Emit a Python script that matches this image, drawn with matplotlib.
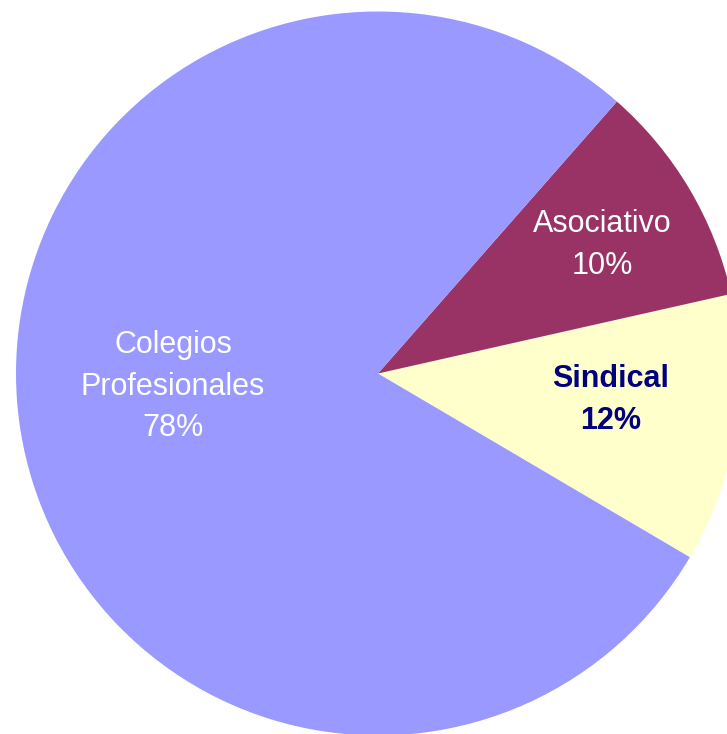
import matplotlib

matplotlib.use("Agg")

import matplotlib.pyplot as plt

# Share of organisations by type (percent)
labels = ["Sindical", "Asociativo", "Colegios\nProfesionales"]
values = [12, 10, 78]
colors = ["#FFFFCC", "#993366", "#9999FF"]
text_colors = ["#000080", "white", "white"]
weights = ["bold", "normal", "normal"]

# label anchor points in pixel space (x right, y up)
label_pos = [(611, 334), (602, 489), (173, 347)]

W, H = 727, 734

fig = plt.figure(figsize=(W / 100, H / 100), dpi=100)
ax = fig.add_axes([0, 0, 1, 1])

ax.pie(
    values,
    colors=colors,
    startangle=-30.5,
    counterclock=True,
    center=(378, H - 373.5),
    radius=362,
    frame=True,
    wedgeprops=dict(linewidth=0),
)
ax.set_xlim(0, W)
ax.set_ylim(0, H)
ax.set_aspect("equal")
ax.axis("off")

for lab, val, (x, y), c, w in zip(labels, values, label_pos, text_colors, weights):
    ax.text(
        x, y, f"{lab}\n{val}%",
        ha="center", va="center", multialignment="center",
        color=c, fontsize=22, fontweight=w, family="Liberation Sans",
        linespacing=1.5,
    )

fig.savefig("out.png", dpi=100, facecolor="white")
